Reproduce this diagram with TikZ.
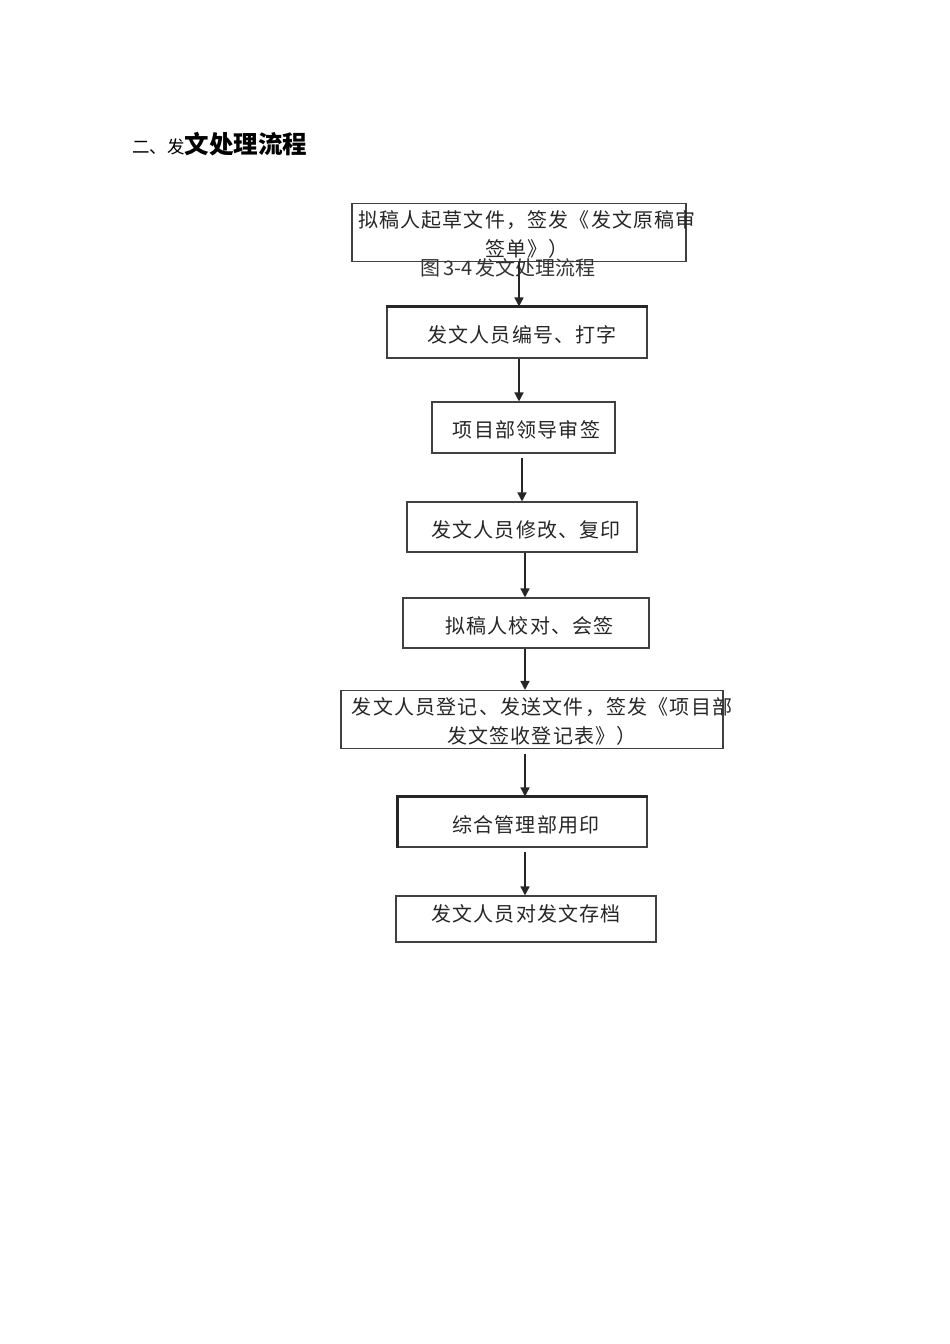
\documentclass[tikz,border=0pt]{standalone}
\usepackage{fontspec}
\usetikzlibrary{arrows.meta}
\newfontfamily\cjk[LetterSpace=6]{Noto Sans CJK SC}
\newfontfamily\cjktitle{Noto Sans CJK SC}
\newcommand{\flowtext}[3]{\makebox[0pt]{\hspace*{#1}\raisebox{#2}[\height][\depth]{\begin{tabular}{@{}c@{}}#3\end{tabular}}}}
\begin{document}
\begin{tikzpicture}
  [x=1pt, y=-1pt,
  etape/.style={
    draw=black!75,
    rectangle,
    line width=1.1pt,
    inner sep=0pt,
    text=black!85,
    font=\cjk\fontsize{20}{29}\selectfont},
  fleche/.style={
    line width=1.5pt,
    draw=black!85,
    -{Triangle[length=9pt,width=9pt]}}]

  \useasboundingbox (0,0) rectangle (950,1344);

  \node [anchor=west, inner sep=0pt, text=black] at (132,144) (titre) {%
    \cjktitle\fontsize{17.5}{17.5}\selectfont 二、发%
    \fontsize{24.5}{24.5}\selectfont\bfseries 文处理流程};

  \node [etape, minimum width=334pt, minimum height=57pt] at (519,232.5) (rediger) {
    \flowtext{16pt}{-4pt}{拟稿人起草文件，签发《发文原稿审\\签单》）}
  };

  \node [inner sep=0pt, text=black!80, font=\cjktitle\fontsize{20}{20}\selectfont]
    at (508,268) (legende) {图\,3-4\,发文处理流程};

  \node [etape, minimum width=260pt, minimum height=51pt] at (517,332.5) (numeroter) {
    \flowtext{10pt}{-4.5pt}{发文人员编号、打字}
  };

  \node [etape, minimum width=183pt, minimum height=51pt] at (523.5,427.5) (signer) {
    \flowtext{6pt}{-4.5pt}{项目部领导审签}
  };

  \node [etape, minimum width=230pt, minimum height=50pt] at (522,527) (modifier) {
    \flowtext{8pt}{-5pt}{发文人员修改、复印}
  };

  \node [etape, minimum width=246pt, minimum height=50pt] at (526,623) (relire) {
    \flowtext{7pt}{-5pt}{拟稿人校对、会签}
  };

  \node [etape, minimum width=382pt, minimum height=55pt] at (532,719.5) (envoyer) {
    \flowtext{20pt}{-4pt}{发文人员登记、发送文件，签发《项目部\\发文签收登记表》）}
  };

  \node [etape, minimum width=249pt, minimum height=50pt] at (522.5,822) (cachet) {
    \flowtext{7pt}{-5pt}{综合管理部用印}
  };

  \node [etape, minimum width=260pt, minimum height=46pt] at (526,919) (archiver) {
    \flowtext{0pt}{3.5pt}{发文人员对发文存档}
  };

  % bords plus epais
  \draw [line width=2.2pt, black!85] (numeroter.north west) -- (numeroter.north east);
  \draw [line width=2.4pt, black!85] (cachet.south west) -- (cachet.north west) -- (cachet.north east);

  \draw [fleche] (rediger) -- (rediger |- numeroter.north);
  \draw [fleche] ([xshift=2pt]numeroter.south) -- ([xshift=2pt]numeroter.south |- signer.north);
  \draw [fleche, shorten <=4pt] ([xshift=-1.5pt]signer.south) -- ([xshift=-1.5pt]signer.south |- modifier.north);
  \draw [fleche] ([xshift=3pt]modifier.south) -- ([xshift=3pt]modifier.south |- relire.north);
  \draw [fleche] ([xshift=-1pt]relire.south) -- ([xshift=-1pt]relire.south |- envoyer.north);
  \draw [fleche, shorten <=5pt] ([xshift=-7pt]envoyer.south) -- ([xshift=-7pt]envoyer.south |- cachet.north);
  \draw [fleche, shorten <=4pt] ([xshift=2.5pt]cachet.south) -- ([xshift=2.5pt]cachet.south |- archiver.north);
\end{tikzpicture}
\end{document}
